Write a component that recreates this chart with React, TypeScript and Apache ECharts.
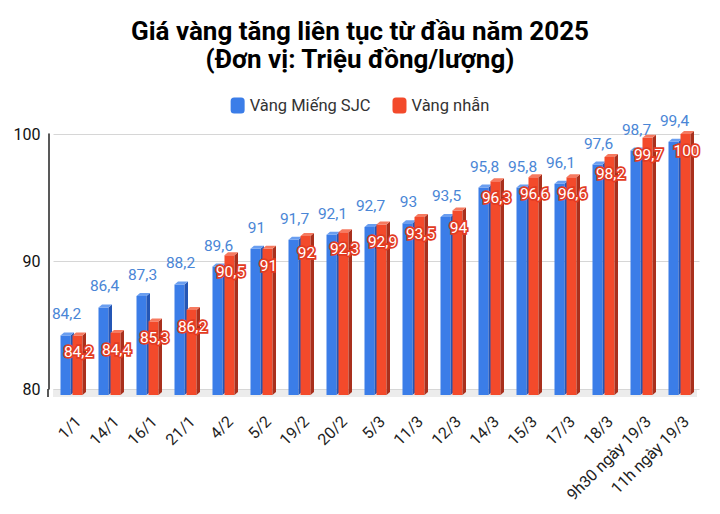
import React, { useEffect, useRef } from "react";
import * as echarts from "echarts";

const categories = ["1/1", "14/1", "16/1", "21/1", "4/2", "5/2", "19/2", "20/2", "5/3", "11/3", "12/3", "14/3", "15/3", "17/3", "18/3", "9h30 ngày 19/3", "11h ngày 19/3"];
const sjcValues = [84.2, 86.4, 87.3, 88.2, 89.6, 91, 91.7, 92.1, 92.7, 93, 93.5, 95.8, 95.8, 96.1, 97.6, 98.7, 99.4];
const nhanValues = [84.2, 84.4, 85.3, 86.2, 90.5, 91, 92, 92.3, 92.9, 93.5, 94, 96.3, 96.6, 96.6, 98.2, 99.7, 100];
const yTicks = [80, 90, 100];

const fmt = (v: number) => String(v).replace(".", ",");

const COLORS = [
  { front: "#3b7de8", side: "#2456b5", top: "#6a9ef0", label: "#4a86d6" },
  { front: "#f34a2b", side: "#a9301d", top: "#f67a60", label: "#ffffff" },
];

function makeRender(si: number) {
  return (params: any, api: any) => {
    const idx = api.value(0);
    const v = api.value(1);
    const p = api.coord([idx, v]);
    const cx = p[0];
    const ty = p[1];
    const base = api.coord([idx, yTicks[0]])[1] + 6;
    const w = 10;
    const d = 3.5;
    const dy = 3;
    const x0 = si === 0 ? cx - 12 : cx;
    const c = COLORS[si];
    const children: any[] = [
      { type: "rect", shape: { x: x0, y: ty, width: w, height: base - ty }, style: { fill: c.front } },
      {
        type: "polygon",
        shape: { points: [[x0 + w, ty], [x0 + w + d, ty - dy], [x0 + w + d, base - dy], [x0 + w, base]] },
        style: { fill: c.side },
      },
      {
        type: "polygon",
        shape: { points: [[x0, ty], [x0 + d, ty - dy], [x0 + w + d, ty - dy], [x0 + w, ty]] },
        style: { fill: c.top },
      },
    ];
    if (si === 0) {
      children.push({
        type: "text",
        style: {
          x: x0 + w / 2 + 1,
          y: ty - 21,
          text: fmt(v),
          fill: c.label,
          font: "15.5px Roboto, sans-serif",
          align: "center",
          verticalAlign: "middle",
        },
        z2: 10,
      });
    } else {
      children.push({
        type: "text",
        style: {
          x: x0 + w / 2 + 1,
          y: ty + 17,
          text: fmt(v),
          fill: "#ffffff",
          stroke: "#e23b22",
          lineWidth: 3.5,
          font: "15.5px Roboto, sans-serif",
          align: "center",
          verticalAlign: "middle",
        },
        z2: 20,
      });
    }
    return { type: "group", children };
  };
}

export default function App() {
  const ref = useRef<HTMLDivElement>(null);
  useEffect(() => {
    if (!ref.current) return;
    const chart = echarts.init(ref.current, null, { renderer: "svg" });
    chart.setOption({
      animation: false,
      backgroundColor: "#ffffff",
      title: {
        text: "Giá vàng tăng liên tục từ đầu năm 2025\n(Đơn vị: Triệu đồng/lượng)",
        left: "center",
        top: 12,
        textStyle: {
          fontFamily: "Roboto, sans-serif",
          fontWeight: "bold",
          fontSize: 26,
          lineHeight: 28,
          color: "#000000",
        },
      },
      legend: {
        top: 92,
        left: "center",
        icon: "roundRect",
        itemWidth: 14,
        itemHeight: 16,
        itemGap: 22,
        textStyle: { fontFamily: "Roboto, sans-serif", fontSize: 16.5, color: "#333333" },
        data: ["Vàng Miếng SJC", "Vàng nhẫn"],
      },
      grid: { left: 53.5, right: 20.5, top: 134, bottom: 125, containLabel: false },
      xAxis: {
        type: "category",
        data: categories,
        axisLine: { show: false },
        axisTick: { show: false },
        axisLabel: {
          rotate: 45,
          interval: 0,
          margin: 24,
          verticalAlign: "top",
          fontFamily: "Roboto, sans-serif",
          fontSize: 16,
          color: "#222222",
        },
      },
      yAxis: {
        type: "value",
        min: 80,
        max: 100,
        interval: 10,
        offset: 5,
        axisLine: { show: true, lineStyle: { color: "#222222", width: 1.5 } },
        axisTick: { show: false },
        splitLine: { lineStyle: { color: "#d6d6d6", width: 1 } },
        axisLabel: {
          margin: 8,
          fontFamily: "Roboto, sans-serif",
          fontSize: 16,
          color: "#111111",
        },
      },
      graphic: [
        { type: "rect", shape: { x: 53, y: 389, width: 644, height: 8 }, style: { fill: "#ececec" }, z: 0 },
        { type: "line", shape: { x1: 48, y1: 389, x2: 48, y2: 397 }, style: { stroke: "#222222", lineWidth: 1.5 } },
      ],
      series: [
        {
          name: "Vàng Miếng SJC",
          type: "custom",
          coordinateSystem: "cartesian2d",
          itemStyle: { color: COLORS[0].front },
          encode: { x: 0, y: 1 },
          renderItem: makeRender(0),
          data: sjcValues.map((v, i) => [i, v]),
          z: 3,
        },
        {
          name: "Vàng nhẫn",
          type: "custom",
          coordinateSystem: "cartesian2d",
          itemStyle: { color: COLORS[1].front },
          encode: { x: 0, y: 1 },
          renderItem: makeRender(1),
          data: nhanValues.map((v, i) => [i, v]),
          z: 4,
        },
      ],
    });
    return () => chart.dispose();
  }, []);
  return <div ref={ref} style={{ width: 720, height: 514, position: "absolute", left: 0, top: 0 }} />;
}
